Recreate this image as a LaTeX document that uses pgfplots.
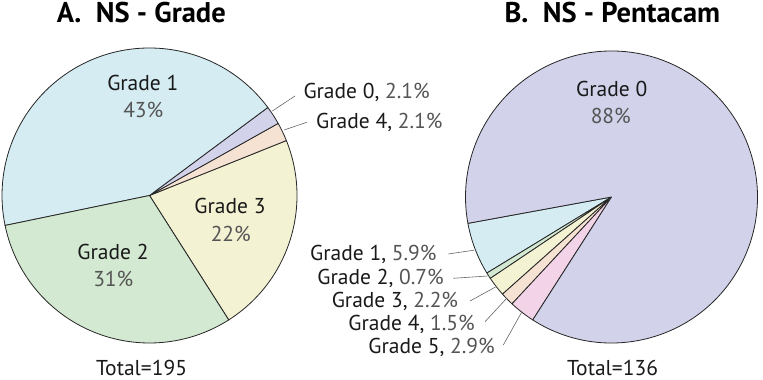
\documentclass[border=0pt]{standalone}
\usepackage{pgfplots}
\pgfplotsset{compat=1.18}
\usepackage{pgfplotstable}
\usepackage{fontspec}
\setmainfont{PT Sans}
\definecolor{cLav}{HTML}{D2D3EB}
\definecolor{cBlue}{HTML}{D4ECF2}
\definecolor{cGreen}{HTML}{D3E9D1}
\definecolor{cYellow}{HTML}{F3F2D3}
\definecolor{cPeach}{HTML}{F6E2D2}
\definecolor{cPink}{HTML}{F3D3E7}
\definecolor{pctgray}{HTML}{555555}

% Panel A: NS - Grade (counts, total 195), counter-clockwise order
\pgfplotstableread{
grade value colour
3 43 cYellow
4 4 cPeach
0 4 cLav
1 84 cBlue
2 60 cGreen
}\pieA

% Panel B: NS - Pentacam (percentages), counter-clockwise order
\pgfplotstableread{
grade value colour
1 5.9 cBlue
2 0.7 cGreen
3 2.2 cYellow
4 1.5 cPeach
5 2.9 cPink
0 88 cLav
}\pieB

\newcommand\drawpie[5]{% #1 table, #2 cx, #3 cy, #4 start angle, #5 radius
  \pgfplotstablegetrowsof{#1}%
  \pgfmathtruncatemacro\lastrow{\pgfplotsretval-1}%
  \def\pietotal{0}%
  \pgfplotsforeachungrouped \pieidx in {0,...,\lastrow}{%
    \pgfplotstablegetelem{\pieidx}{value}\of{#1}%
    \pgfmathsetmacro\pietotal{\pietotal+\pgfplotsretval}%
  }%
  \def\astart{#4}%
  \pgfplotsforeachungrouped \pieidx in {0,...,\lastrow}{%
    \pgfplotstablegetelem{\pieidx}{value}\of{#1}%
    \pgfmathsetmacro\aend{\astart+(\pgfplotsretval/\pietotal)*360}%
    \pgfplotstablegetelem{\pieidx}{colour}\of{#1}%
    \let\slicecol\pgfplotsretval
    \edef\cmd{\noexpand\filldraw[fill=\slicecol, draw=black!85, line width=0.8pt, line join=round]
      (axis cs:#2,#3) -- ++(\astart:#5pt) arc[start angle=\astart, end angle=\aend, radius=#5pt] -- cycle;}%
    \cmd
    \let\astart\aend
  }%
}

\newcommand\lab{\fontsize{21.5}{25}\selectfont}
\newcommand\ttl{\fontsize{28.5}{32}\selectfont\bfseries}

\begin{document}
\begin{tikzpicture}
\begin{axis}[x=1pt, y=1pt, xmin=0, xmax=763, ymin=0, ymax=380,
  hide axis, clip=false]
\drawpie{\pieA}{149.5}{184.5}{302.5}{147.5}
\drawpie{\pieB}{611.5}{183}{190.4}{146}

% titles
\node[anchor=base, font=\ttl, inner sep=0pt] at (axis cs:141.3,357) {A.\ \ NS - Grade};
\node[anchor=base, font=\ttl, inner sep=0pt] at (axis cs:612.3,357) {B.\ \ NS - Pentacam};
% totals
\node[anchor=base, font=\lab, text=black!90, inner sep=0pt] at (axis cs:141.5,4.5) {Total=195};
\node[anchor=base, font=\lab, text=black!90, inner sep=0pt] at (axis cs:612.5,4.5) {Total=136};

% inner labels A
\node[anchor=base, font=\lab, text=black!90] at (axis cs:142.8,289) {Grade 1};
\node[anchor=base, font=\lab, text=pctgray] at (axis cs:143.3,262) {43\%};
\node[anchor=base, font=\lab, text=black!90] at (axis cs:230,166) {Grade 3};
\node[anchor=base, font=\lab, text=pctgray] at (axis cs:230.8,138.3) {22\%};
\node[anchor=base, font=\lab, text=black!90] at (axis cs:113,120) {Grade 2};
\node[anchor=base, font=\lab, text=pctgray] at (axis cs:113.3,93) {31\%};
% outer labels A
\node[anchor=base west, font=\lab, text=black!90, inner sep=0pt] at (axis cs:303.3,281.7) {Grade 0, {\color{pctgray}2.1\%}};
\node[anchor=base west, font=\lab, text=black!90, inner sep=0pt] at (axis cs:316,251.7) {Grade 4, {\color{pctgray}2.1\%}};
\draw[black!60, line width=0.6pt] (axis cs:272.3,269) -- (axis cs:295,284);
\draw[black!60, line width=0.6pt] (axis cs:284,250) -- (axis cs:306.7,257.7);

% inner label B
\node[anchor=base, font=\lab, text=black!90] at (axis cs:611.7,283.3) {Grade 0};
\node[anchor=base, font=\lab, text=pctgray] at (axis cs:610.8,256) {88\%};
% outer labels B
\node[anchor=base east, font=\lab, text=black!90, inner sep=0pt] at (axis cs:436.7,119.3) {Grade 1, {\color{pctgray}5.9\%}};
\node[anchor=base east, font=\lab, text=black!90, inner sep=0pt] at (axis cs:444,95.7) {Grade 2, {\color{pctgray}0.7\%}};
\node[anchor=base east, font=\lab, text=black!90, inner sep=0pt] at (axis cs:458.3,72.3) {Grade 3, {\color{pctgray}2.2\%}};
\node[anchor=base east, font=\lab, text=black!90, inner sep=0pt] at (axis cs:475,49.3) {Grade 4, {\color{pctgray}1.5\%}};
\node[anchor=base east, font=\lab, text=black!90, inner sep=0pt] at (axis cs:495,26.7) {Grade 5, {\color{pctgray}2.9\%}};
\draw[black!60, line width=0.6pt] (axis cs:448.3,126) -- (axis cs:474,129.8);
\draw[black!60, line width=0.6pt] (axis cs:453.3,101.7) -- (axis cs:487.5,104);
\draw[black!60, line width=0.6pt] (axis cs:470,79) -- (axis cs:495.5,93);
\draw[black!60, line width=0.6pt] (axis cs:485,58.3) -- (axis cs:506.5,81.5);
\draw[black!60, line width=0.6pt] (axis cs:503.3,35) -- (axis cs:521.5,67.5);

\coordinate (BL) at (axis cs:0,0);
\coordinate (TR) at (axis cs:763,380);
\end{axis}
\pgfresetboundingbox
\path[use as bounding box] (BL) rectangle (TR);
\end{tikzpicture}
\end{document}
